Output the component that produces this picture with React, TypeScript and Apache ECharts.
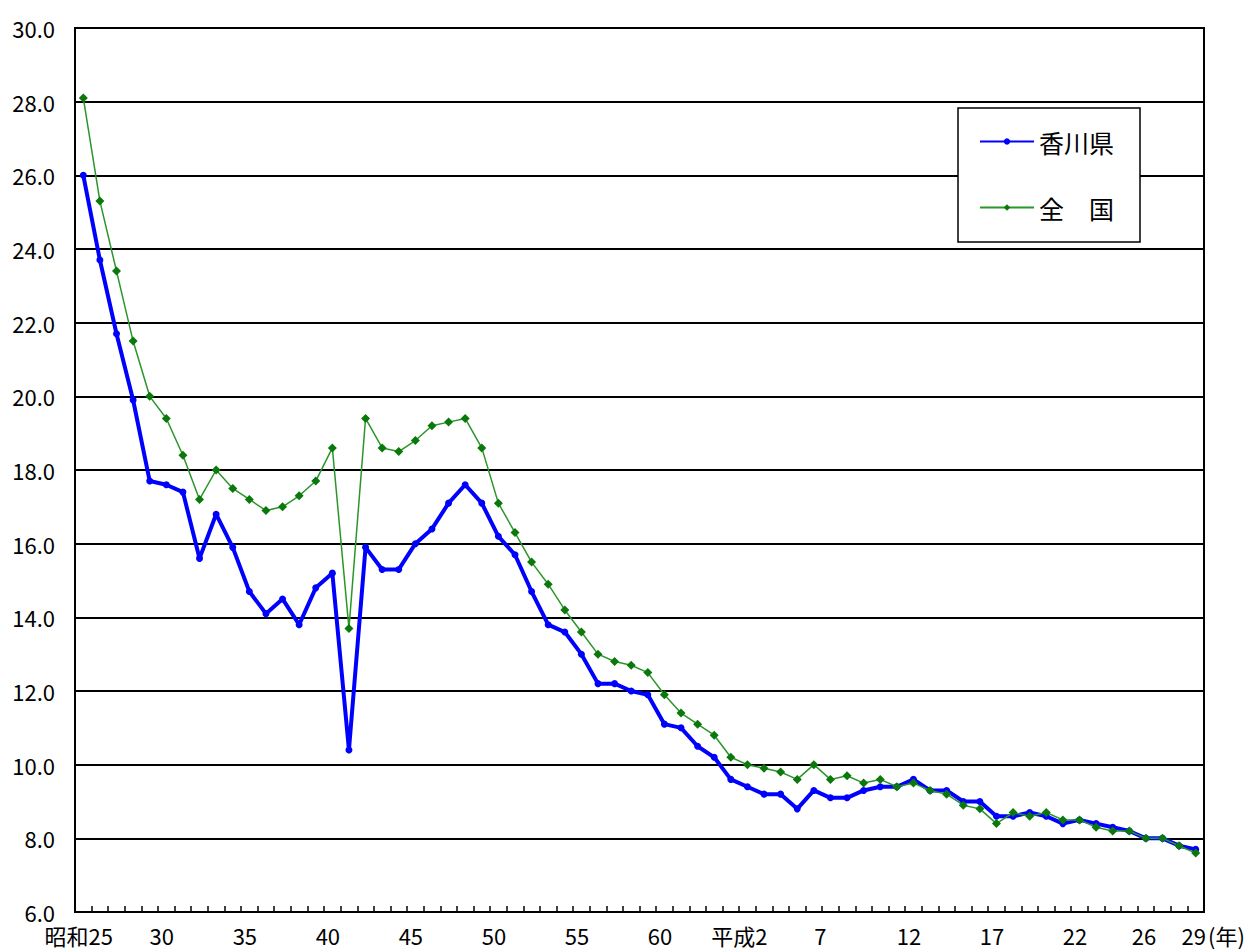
import React, { useEffect, useRef } from 'react';
import * as echarts from 'echarts';

const years = [
  '1950', '1951', '1952', '1953', '1954', '1955', '1956', '1957', '1958', '1959',
  '1960', '1961', '1962', '1963', '1964', '1965', '1966', '1967', '1968', '1969',
  '1970', '1971', '1972', '1973', '1974', '1975', '1976', '1977', '1978', '1979',
  '1980', '1981', '1982', '1983', '1984', '1985', '1986', '1987', '1988', '1989',
  '1990', '1991', '1992', '1993', '1994', '1995', '1996', '1997', '1998', '1999',
  '2000', '2001', '2002', '2003', '2004', '2005', '2006', '2007', '2008', '2009',
  '2010', '2011', '2012', '2013', '2014', '2015', '2016', '2017',
];

const tickLabels = [
  '昭和25', '', '', '', '', '30', '', '', '', '',
  '35', '', '', '', '', '40', '', '', '', '',
  '45', '', '', '', '', '50', '', '', '', '',
  '55', '', '', '', '', '60', '', '', '', '',
  '平成2', '', '', '', '', '7', '', '', '', '',
  '12', '', '', '', '', '17', '', '', '', '',
  '22', '', '', '', '26', '', '', '29',
];

const kagawa = [
  26.0, 23.7, 21.7, 19.9, 17.7, 17.6, 17.4, 15.6, 16.8, 15.9,
  14.7, 14.1, 14.5, 13.8, 14.8, 15.2, 10.4, 15.9, 15.3, 15.3,
  16.0, 16.4, 17.1, 17.6, 17.1, 16.2, 15.7, 14.7, 13.8, 13.6,
  13.0, 12.2, 12.2, 12.0, 11.9, 11.1, 11.0, 10.5, 10.2, 9.6,
  9.4, 9.2, 9.2, 8.8, 9.3, 9.1, 9.1, 9.3, 9.4, 9.4,
  9.6, 9.3, 9.3, 9.0, 9.0, 8.6, 8.6, 8.7, 8.6, 8.4,
  8.5, 8.4, 8.3, 8.2, 8.0, 8.0, 7.8, 7.7,
];

const zenkoku = [
  28.1, 25.3, 23.4, 21.5, 20.0, 19.4, 18.4, 17.2, 18.0, 17.5,
  17.2, 16.9, 17.0, 17.3, 17.7, 18.6, 13.7, 19.4, 18.6, 18.5,
  18.8, 19.2, 19.3, 19.4, 18.6, 17.1, 16.3, 15.5, 14.9, 14.2,
  13.6, 13.0, 12.8, 12.7, 12.5, 11.9, 11.4, 11.1, 10.8, 10.2,
  10.0, 9.9, 9.8, 9.6, 10.0, 9.6, 9.7, 9.5, 9.6, 9.4,
  9.5, 9.3, 9.2, 8.9, 8.8, 8.4, 8.7, 8.6, 8.7, 8.5,
  8.5, 8.3, 8.2, 8.2, 8.0, 8.0, 7.8, 7.6,
];

const seriesNames = ['香川県', '全　国'];

const FONT = '"Noto Sans CJK JP", "Noto Sans", sans-serif';

export default function App() {
  const ref = useRef<HTMLDivElement>(null);

  useEffect(() => {
    if (!ref.current) return;
    const chart = echarts.init(ref.current, undefined, { renderer: 'svg' });
    const shiftFor = (t: string) => {
      if (t === '平成2') return 'b';
      if (t === '7') return 'c';
      if (t === '26' || t === '29') return 'd';
      return 'a';
    };
    const richBase = { fontSize: 22, fontFamily: FONT, color: '#000', lineHeight: 22 };
    chart.setOption({
      animation: false,
      backgroundColor: '#ffffff',
      textStyle: { fontFamily: FONT },
      grid: {
        left: 75,
        right: 53,
        top: 28,
        bottom: 39,
        show: true,
        borderColor: '#000',
        borderWidth: 2,
        backgroundColor: 'transparent',
        outerBoundsMode: 'none',
      },
      legend: {
        data: seriesNames,
        orient: 'vertical',
        left: 958,
        top: 108,
        width: 181,
        padding: [21, 26, 22, 21],
        itemGap: 41,
        itemWidth: 54,
        itemHeight: 8,
        backgroundColor: '#ffffff',
        borderColor: '#000',
        borderWidth: 1.5,
        borderRadius: 0,
        textStyle: { fontSize: 25, color: '#000', fontFamily: FONT },
      },
      xAxis: {
        type: 'category',
        data: years,
        boundaryGap: true,
        axisLine: { show: true, lineStyle: { color: '#000', width: 2 } },
        axisTick: {
          show: true,
          inside: true,
          length: 6,
          interval: 0,
          lineStyle: { color: '#000', width: 1.5 },
        },
        axisLabel: {
          interval: 0,
          margin: 12,
          color: '#000',
          fontSize: 22,
          lineHeight: 22,
          fontFamily: FONT,
          formatter: (_v: string, i: number) => {
            const t = tickLabels[i];
            return t ? `{${shiftFor(t)}|${t}}` : '';
          },
          rich: {
            a: { ...richBase, padding: [0, 9, 0, 0] },
            b: { ...richBase, padding: [0, 16, 0, 0] },
            c: { ...richBase, padding: [0, 20, 0, 0] },
            d: { ...richBase, padding: [0, 4, 0, 0] },
          },
        },
        splitLine: { show: false },
      },
      yAxis: {
        type: 'value',
        min: 6,
        max: 30,
        interval: 2,
        axisLine: { show: true, lineStyle: { color: '#000', width: 2 } },
        axisTick: { show: false },
        axisLabel: {
          margin: 20,
          color: '#000',
          fontSize: 22,
          lineHeight: 20,
          fontFamily: FONT,
          formatter: (v: number) => v.toFixed(1),
        },
        splitLine: { show: true, lineStyle: { color: '#000', width: 2 } },
      },
      graphic: [
        {
          type: 'text',
          left: 1208,
          top: 924,
          style: { text: '(年)', fontSize: 22, fontFamily: FONT, fill: '#000' },
        },
      ],
      series: [
        {
          name: seriesNames[0],
          type: 'line',
          data: kagawa,
          symbol: 'circle',
          symbolSize: 7,
          lineStyle: { color: '#0000ff', width: 4 },
          itemStyle: { color: '#0000ff' },
          z: 3,
        },
        {
          name: seriesNames[1],
          type: 'line',
          data: zenkoku,
          symbol: 'diamond',
          symbolSize: 9,
          lineStyle: { color: '#2a962a', width: 1.5 },
          itemStyle: { color: '#0a780a' },
          z: 4,
        },
      ],
    });
    return () => chart.dispose();
  }, []);

  return (
    <div
      ref={ref}
      style={{ position: 'fixed', left: 0, top: 0, width: 1257, height: 951 }}
    />
  );
}
